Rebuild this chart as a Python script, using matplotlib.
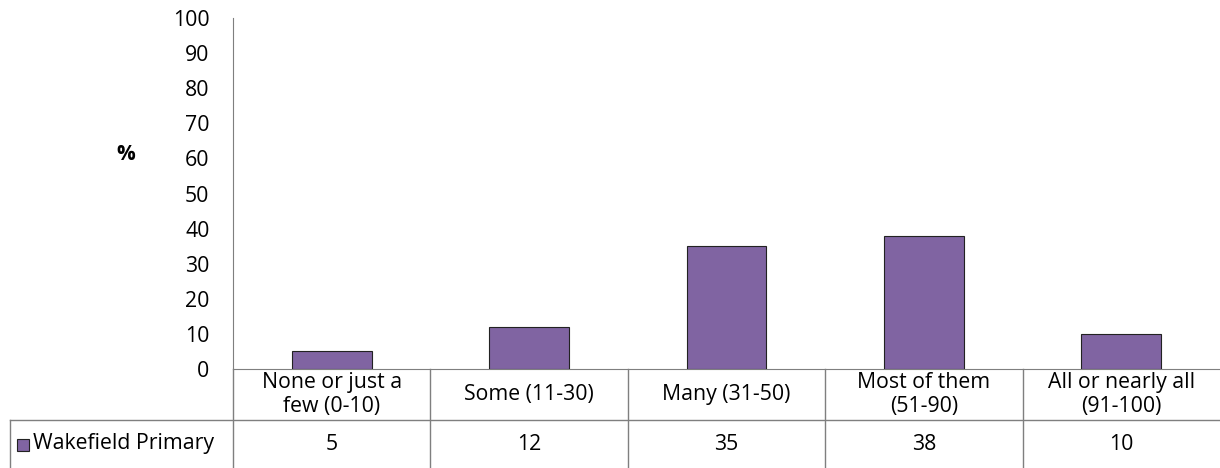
import matplotlib
matplotlib.use("Agg")
import matplotlib.pyplot as plt
from matplotlib.transforms import blended_transform_factory
from matplotlib.patches import Rectangle

plt.rcParams['font.family'] = ['Open Sans', 'DejaVu Sans']

# Data
categories = ["None or just a\nfew (0-10)", "Some (11-30)", "Many (31-50)",
              "Most of them\n(51-90)", "All or nearly all\n(91-100)"]
series_name = "Wakefield Primary"
values = [5, 12, 35, 38, 10]
yticks = list(range(0, 101, 10))

W, H = 1220, 468
fig = plt.figure(figsize=(W / 100, H / 100), dpi=100)

# plot area in pixel coordinates
left, right, top, bottom = 233, 1220, 18, 369
ax = fig.add_axes([left / W, 1 - bottom / H, (right - left) / W, (bottom - top) / H])

bar_color = "#8064A2"
line_color = "#7f7f7f"
fs = 15.3
x = list(range(len(values)))
ax.bar(x, values, width=0.405, color=bar_color, edgecolor="#222222", linewidth=0.8, zorder=3)

ax.set_xlim(-0.5, len(values) - 0.5)
ax.set_ylim(0, 100)
ax.set_yticks(yticks)
ax.set_yticklabels([str(t) for t in yticks], fontsize=fs)
ax.tick_params(axis='y', length=0, pad=17)
ax.set_xticks([])
for s in ['top', 'right']:
    ax.spines[s].set_visible(False)
ax.spines['left'].set_color(line_color)
ax.spines['bottom'].set_color(line_color)

fig.text(126 / W, 1 - 154 / H, "%", fontsize=15, fontweight='bold', ha='center', va='center')

# Data table below the axis
tr = blended_transform_factory(ax.transData, fig.transFigure)
y_top = 1 - bottom / H
y_mid = 1 - 420 / H
y_bot = 0.0
row1_c = (y_top + y_mid) / 2
row2_c = (y_mid + y_bot) / 2

for b in [i - 0.5 for i in range(len(values) + 1)][:-1]:
    ax.plot([b, b], [y_top, y_bot], color=line_color, lw=1, transform=tr, clip_on=False)
fig.add_artist(plt.Line2D([10 / W, 1], [y_mid, y_mid], color=line_color, lw=1))
fig.add_artist(plt.Line2D([10 / W, 10 / W], [y_mid, y_bot], color=line_color, lw=1))

for i, (c, v) in enumerate(zip(categories, values)):
    ax.text(i, row1_c, c, transform=tr, ha='center', va='center', fontsize=fs,
            linespacing=1.2)
    ax.text(i, row2_c, str(v), transform=tr, ha='center', va='center', fontsize=fs)

fig.add_artist(Rectangle((17 / W, 1 - 451 / H), 12 / W, 12 / H, facecolor=bar_color,
                         edgecolor="#222222", linewidth=0.8, transform=fig.transFigure))
fig.text(33 / W, row2_c, series_name, fontsize=fs, ha='left', va='center')

fig.savefig("out.png", dpi=100)
